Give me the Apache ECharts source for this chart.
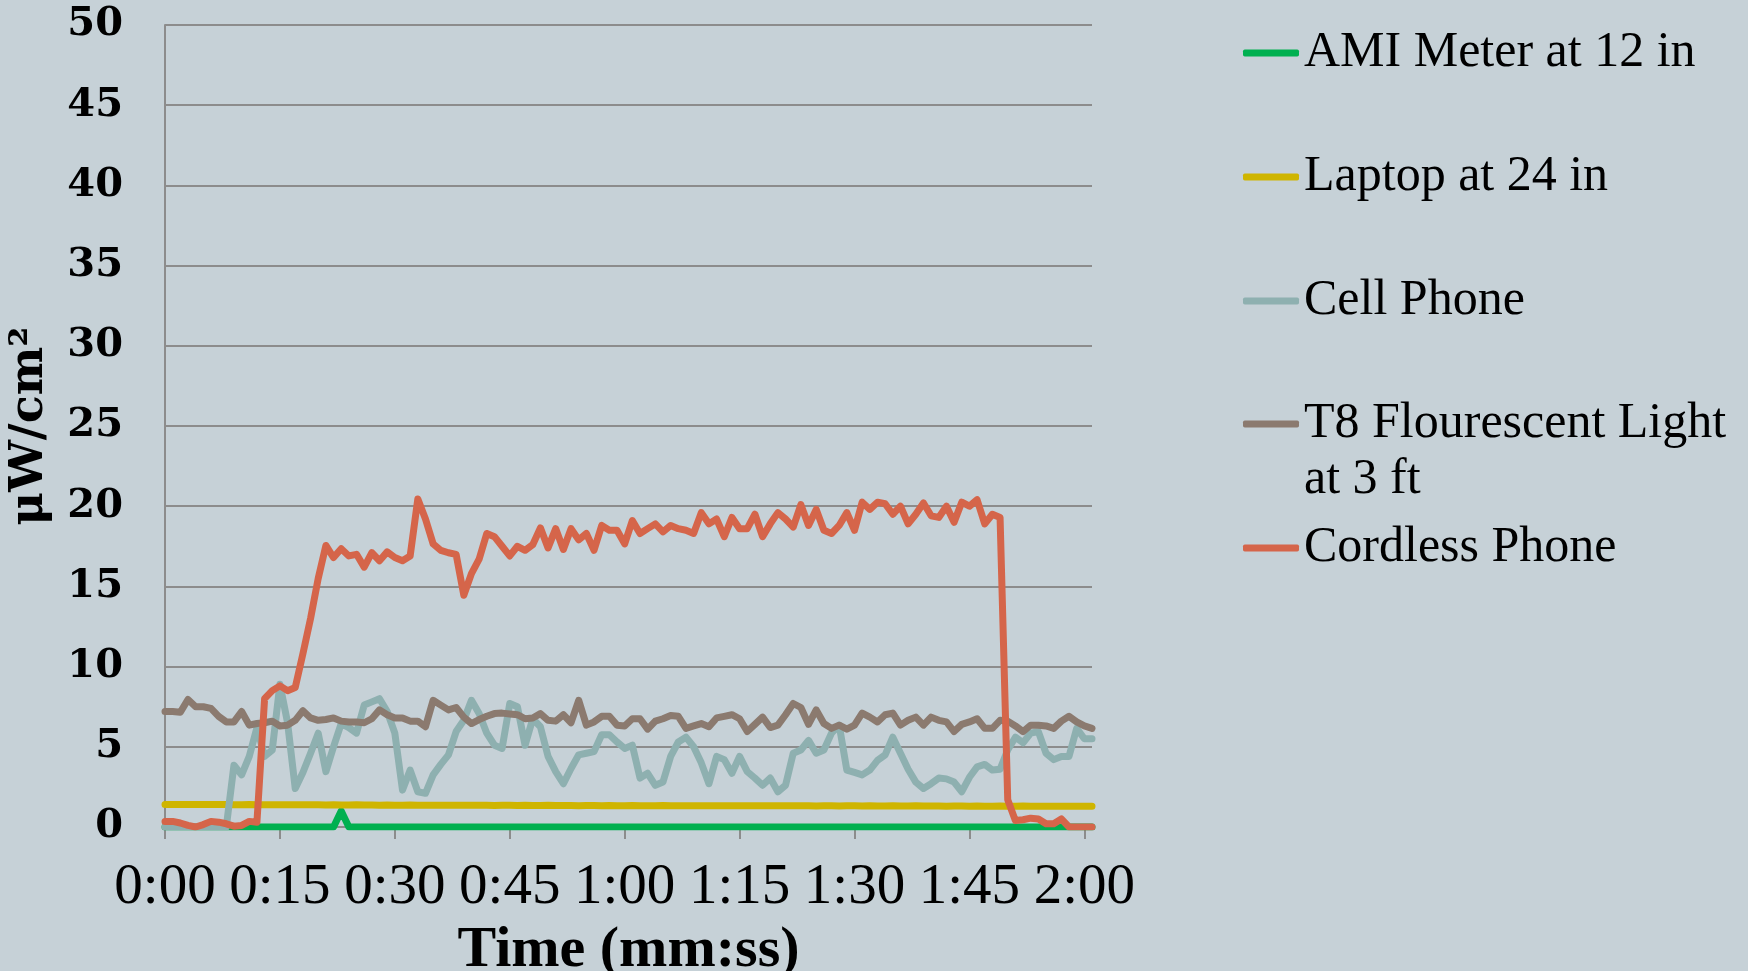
<!DOCTYPE html>
<html><head><meta charset="utf-8">
<script src="https://cdn.jsdelivr.net/npm/echarts@6/dist/echarts.min.js"></script>
<style>html,body{margin:0;padding:0;background:#c6d1d7;} #c{width:1748px;height:971px;}</style>
</head><body><div id="c"></div>
<script>
// time in seconds (one reading per second)
const seconds = [];
for (let s = 0; s <= 121; s++) seconds.push(s);
const categories = seconds.map(s => Math.floor(s / 60) + ':' + String(s % 60).padStart(2, '0'));
const tickEvery = 15; // 0:00, 0:15, ... 2:00

const seriesNames = ['AMI Meter at 12 in', 'Laptop at 24 in', 'Cell Phone', 'T8 Flourescent Light\nat 3 ft', 'Cordless Phone'];

const amiMeter = [
  0,0,0,0,0,0,0,0,0,0,
  0,0,0,0,0,0,0,0,0,0,
  0,0,0,1.0,0,0,0,0,0,0,
  0,0,0,0,0,0,0,0,0,0,
  0,0,0,0,0,0,0,0,0,0,
  0,0,0,0,0,0,0,0,0,0,
  0,0,0,0,0,0,0,0,0,0,
  0,0,0,0,0,0,0,0,0,0,
  0,0,0,0,0,0,0,0,0,0,
  0,0,0,0,0,0,0,0,0,0,
  0,0,0,0,0,0,0,0,0,0,
  0,0,0,0,0,0,0,0,0,0,
  0,0
];
const laptop = [
  1.40,1.40,1.41,1.40,1.40,1.41,1.41,1.40,1.40,1.39,
  1.39,1.40,1.39,1.39,1.38,1.39,1.38,1.38,1.39,1.38,
  1.38,1.37,1.38,1.37,1.37,1.38,1.37,1.37,1.36,1.37,
  1.36,1.36,1.37,1.36,1.36,1.35,1.36,1.35,1.35,1.36,
  1.35,1.35,1.35,1.34,1.35,1.35,1.34,1.35,1.34,1.34,
  1.35,1.34,1.34,1.34,1.33,1.34,1.34,1.33,1.34,1.33,
  1.33,1.34,1.33,1.33,1.33,1.34,1.33,1.33,1.32,1.33,
  1.33,1.32,1.33,1.33,1.32,1.33,1.32,1.32,1.33,1.32,
  1.32,1.33,1.32,1.32,1.32,1.31,1.32,1.32,1.31,1.32,
  1.32,1.31,1.32,1.31,1.31,1.32,1.31,1.31,1.32,1.31,
  1.31,1.31,1.30,1.31,1.31,1.30,1.31,1.30,1.30,1.31,
  1.30,1.30,1.31,1.30,1.30,1.30,1.29,1.30,1.30,1.29,
  1.30,1.30
];
const cellPhone = [
  0,0,0,0,0,0,0,0,0,3.85,
  3.25,4.4,6.2,4.4,4.8,8.9,6.5,2.4,3.4,4.6,
  5.85,3.45,5.0,6.45,6.2,5.85,7.6,7.8,8.0,7.2,
  5.85,2.3,3.55,2.2,2.1,3.25,3.9,4.5,5.95,6.65,
  7.9,7.07,5.85,5.1,4.9,7.7,7.5,5.1,6.75,6.25,
  4.4,3.45,2.7,3.65,4.5,4.6,4.7,5.75,5.75,5.3,
  4.9,5.1,3.05,3.35,2.6,2.8,4.4,5.3,5.6,5.0,
  4.0,2.7,4.4,4.2,3.35,4.4,3.45,3.05,2.6,3.05,
  2.2,2.6,4.6,4.8,5.4,4.6,4.8,5.85,6.35,3.55,
  3.4,3.25,3.55,4.15,4.5,5.6,4.6,3.6,2.8,2.4,
  2.7,3.05,3.0,2.8,2.2,3.1,3.75,3.9,3.55,3.6,
  4.8,5.6,5.25,5.85,5.95,4.6,4.2,4.4,4.4,6.15,
  5.5,5.5
];
const t8Light = [
  7.2,7.2,7.15,7.95,7.5,7.5,7.4,6.9,6.55,6.55,
  7.2,6.35,6.45,6.5,6.6,6.3,6.35,6.65,7.25,6.8,
  6.65,6.7,6.8,6.6,6.55,6.55,6.5,6.75,7.3,7.0,
  6.8,6.8,6.6,6.6,6.25,7.9,7.6,7.3,7.45,6.85,
  6.45,6.7,6.9,7.07,7.1,7.05,7.0,6.75,6.8,7.07,
  6.65,6.6,7.0,6.5,7.9,6.35,6.55,6.9,6.9,6.35,
  6.3,6.75,6.75,6.1,6.6,6.75,6.95,6.9,6.15,6.3,
  6.45,6.25,6.8,6.9,7.0,6.75,5.95,6.4,6.85,6.2,
  6.35,7.0,7.7,7.45,6.4,7.3,6.45,6.15,6.35,6.1,
  6.35,7.1,6.85,6.55,7.0,7.1,6.35,6.65,6.85,6.35,
  6.85,6.65,6.55,5.95,6.4,6.55,6.75,6.15,6.15,6.65,
  6.6,6.3,5.95,6.35,6.35,6.3,6.15,6.6,6.9,6.55,
  6.3,6.15
];
const cordlessPhone = [
  0.35,0.35,0.25,0.1,0.0,0.15,0.35,0.3,0.2,0.05,
  0.1,0.35,0.3,8.0,8.5,8.8,8.5,8.7,10.8,13.0,
  15.5,17.55,16.8,17.35,16.9,17.0,16.2,17.1,16.6,17.15,
  16.8,16.6,16.9,20.45,19.2,17.65,17.25,17.1,17.0,14.45,
  15.8,16.7,18.3,18.1,17.5,16.9,17.5,17.25,17.6,18.65,
  17.4,18.6,17.3,18.6,17.9,18.3,17.25,18.8,18.5,18.5,
  17.65,19.1,18.3,18.6,18.9,18.4,18.8,18.6,18.5,18.3,
  19.6,18.9,19.2,18.1,19.3,18.6,18.6,19.5,18.1,18.9,
  19.6,19.2,18.7,20.1,18.8,19.8,18.5,18.3,18.8,19.6,
  18.5,20.25,19.8,20.25,20.15,19.5,20.0,18.9,19.5,20.2,
  19.4,19.3,20.0,19.0,20.25,20.0,20.4,18.9,19.5,19.3,
  1.7,0.4,0.45,0.55,0.5,0.2,0.2,0.5,0.0,0.0,
  0.0,0.0
];
const yTicks = { min: 0, max: 50, interval: 5 };

const colors = ['#00b050', '#cfb500', '#8eb0b0', '#8b7a6f', '#d5654a'];
const values = [amiMeter, laptop, cellPhone, t8Light, cordlessPhone];

const gridColor = '#8c8c8c';
const legendTops = [25, 149, 273, 340, 520];

const chart = echarts.init(document.getElementById('c'));
chart.setOption({
  backgroundColor: '#c6d1d7',
  animation: false,
  grid: { left: 165, right: 656, top: 25, bottom: 144, containLabel: false, outerBoundsMode: 'none' },
  legend: seriesNames.map((n, i) => ({
    data: [n],
    orient: 'vertical',
    left: 1243,
    top: legendTops[i],
    padding: 0,
    icon: 'roundRect',
    itemWidth: 56,
    itemHeight: 7,
    itemStyle: { borderWidth: 0 },
    formatter: i === 3 ? (name) => '\u00a0\n' + name : '{name}',
    textStyle: { fontFamily: 'Liberation Serif', fontSize: 50, lineHeight: 56, color: '#000' }
  })),
  xAxis: {
    type: 'category',
    data: categories,
    boundaryGap: false,
    axisLine: { show: true, lineStyle: { color: gridColor, width: 2 } },
    axisTick: { show: true, length: 12, interval: (i) => i % tickEvery === 0, lineStyle: { color: gridColor, width: 2 } },
    axisLabel: {
      interval: (i) => i % tickEvery === 0,
      fontFamily: 'Liberation Serif', fontSize: 57, color: '#000', margin: 33
    },
    splitLine: { show: false },
    name: 'Time (mm:ss)',
    nameLocation: 'middle',
    nameGap: 93,
    nameTextStyle: { fontFamily: 'Liberation Serif', fontWeight: 'bold', fontSize: 58, color: '#000' }
  },
  yAxis: {
    type: 'value',
    min: yTicks.min, max: yTicks.max, interval: yTicks.interval,
    axisLine: { show: true, lineStyle: { color: gridColor, width: 2 } },
    axisTick: { show: false },
    axisLabel: { fontFamily: 'DejaVu Serif', fontWeight: 'bold', fontSize: 40, color: '#000', margin: 42 },
    splitLine: { show: true, lineStyle: { color: gridColor, width: 2 } },
    name: 'μW/cm²',
    nameLocation: 'middle',
    nameGap: 112,
    nameTextStyle: { fontFamily: 'DejaVu Serif', fontWeight: 'bold', fontSize: 46, color: '#000' }
  },
  series: seriesNames.map((n, i) => ({
    name: n,
    type: 'line',
    data: values[i],
    symbol: 'none',
    showSymbol: false,
    color: colors[i],
    lineStyle: { width: 7, color: colors[i], cap: 'round', join: 'round' },
    emphasis: { disabled: true }
  }))
});
</script>
</body></html>
